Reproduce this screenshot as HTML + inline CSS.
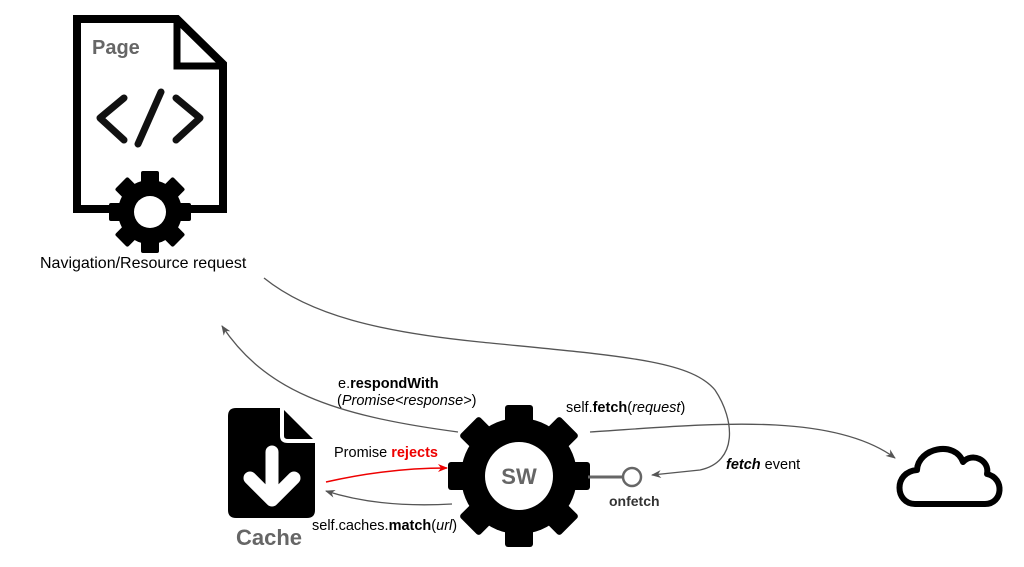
<!DOCTYPE html>
<html><head><meta charset="utf-8"><style>
html,body{margin:0;padding:0;background:#fff;}
svg{display:block;font-family:"Liberation Sans",sans-serif;}
</style></head><body>
<svg width="1024" height="567" viewBox="0 0 1024 567" xmlns="http://www.w3.org/2000/svg">
<defs>
<marker id="a" markerWidth="10" markerHeight="8" refX="9" refY="4" orient="auto" markerUnits="userSpaceOnUse"><path d="M0,0 L10,4 L0,8 L3,4 z" fill="#555"/></marker>
<marker id="r" markerWidth="10" markerHeight="8" refX="9" refY="4" orient="auto" markerUnits="userSpaceOnUse"><path d="M0,0 L10,4 L0,8 L3,4 z" fill="#e00"/></marker>
</defs>
<path d="M77,19 L177,19 L223,64 L223,209 L77,209 Z" fill="none" stroke="#000" stroke-width="8" stroke-linejoin="miter"/>
<path d="M177,19 L177,66 L223,66" fill="none" stroke="#000" stroke-width="7"/>
<text x="92" y="54" font-size="20" font-weight="bold" fill="#666">Page</text>
<g stroke="#111" stroke-width="7" stroke-linecap="round" stroke-linejoin="round" fill="none">
<path d="M124,98 L100,118 L124,140"/>
<path d="M176,98 L200,118 L176,140"/>
<path d="M161,92 L138,144"/>
</g>
<g transform="translate(150,212)">
<circle r="32" fill="#000"/>
<g fill="#000">
<rect x="-9" y="-41" width="18" height="14" rx="2"/>
<rect x="-9" y="-41" width="18" height="14" rx="2" transform="rotate(45)"/>
<rect x="-9" y="-41" width="18" height="14" rx="2" transform="rotate(90)"/>
<rect x="-9" y="-41" width="18" height="14" rx="2" transform="rotate(135)"/>
<rect x="-9" y="-41" width="18" height="14" rx="2" transform="rotate(180)"/>
<rect x="-9" y="-41" width="18" height="14" rx="2" transform="rotate(225)"/>
<rect x="-9" y="-41" width="18" height="14" rx="2" transform="rotate(270)"/>
<rect x="-9" y="-41" width="18" height="14" rx="2" transform="rotate(315)"/>
</g>
<circle r="16" fill="#fff"/>
</g>
<text x="40" y="268" font-size="16" fill="#000">Navigation/Resource request</text>
<g fill="none" stroke="#555" stroke-width="1.3">
<path d="M264,278 C310,315 380,332 480,342 C620,356 690,360 715,390 C735,420 738,462 700,470 L652,475" marker-end="url(#a)"/>
<path d="M458,432 C330,415 265,390 222,326" marker-end="url(#a)"/>
<path d="M590,432 C700,425 830,410 895,458" marker-end="url(#a)"/>
<path d="M452,504 C400,507 360,502 326,491" marker-end="url(#a)"/>
</g>
<path d="M326,482 C370,472 410,468 447,468" fill="none" stroke="#e00" stroke-width="1.5" marker-end="url(#r)"/>
<path d="M236,408 L282,408 L315,441 L315,510 Q315,518 307,518 L236,518 Q228,518 228,510 L228,416 Q228,408 236,408 Z" fill="#000"/>
<path d="M282,408 L282,436 Q282,441 288,441 L315,441" fill="none" stroke="#fff" stroke-width="4"/>
<path d="M272,452 L272,494" stroke="#fff" stroke-width="13" stroke-linecap="round"/>
<path d="M250,478 L272,500 L294,478" fill="none" stroke="#fff" stroke-width="13" stroke-linecap="round" stroke-linejoin="round"/>
<text x="236" y="545" font-size="22" font-weight="bold" fill="#666">Cache</text>
<g transform="translate(519,476)">
<circle r="58" fill="#000"/>
<g fill="#000">
<rect x="-14" y="-71" width="28" height="22" rx="3"/>
<rect x="-14" y="-71" width="28" height="22" rx="3" transform="rotate(45)"/>
<rect x="-14" y="-71" width="28" height="22" rx="3" transform="rotate(90)"/>
<rect x="-14" y="-71" width="28" height="22" rx="3" transform="rotate(135)"/>
<rect x="-14" y="-71" width="28" height="22" rx="3" transform="rotate(180)"/>
<rect x="-14" y="-71" width="28" height="22" rx="3" transform="rotate(225)"/>
<rect x="-14" y="-71" width="28" height="22" rx="3" transform="rotate(270)"/>
<rect x="-14" y="-71" width="28" height="22" rx="3" transform="rotate(315)"/>
</g>
<circle r="34" fill="#fff"/>
<text x="0" y="8" font-size="22" font-weight="bold" fill="#666" text-anchor="middle">SW</text>
</g>
<line x1="588" y1="477" x2="623" y2="477" stroke="#666" stroke-width="3"/>
<circle cx="632" cy="477" r="9" fill="#fff" stroke="#666" stroke-width="2.5"/>
<text x="609" y="506" font-size="14" font-weight="bold" fill="#333">onfetch</text>
<text x="338" y="388" font-size="14.5" fill="#000">e.<tspan font-weight="bold">respondWith</tspan></text>
<text x="337" y="405" font-size="14.5" fill="#000">(<tspan font-style="italic">Promise&lt;response&gt;</tspan>)</text>
<text x="566" y="412" font-size="14.5" fill="#000">self.<tspan font-weight="bold">fetch</tspan>(<tspan font-style="italic">request</tspan>)</text>
<text x="334" y="457" font-size="14.5" fill="#000">Promise <tspan font-weight="bold" fill="#e00">rejects</tspan></text>
<text x="312" y="530" font-size="14.5" fill="#000">self.caches.<tspan font-weight="bold">match</tspan>(<tspan font-style="italic">url</tspan>)</text>
<text x="726" y="469" font-size="14.5" fill="#000"><tspan font-weight="bold" font-style="italic">fetch</tspan> event</text>
<path d="M915,504 C895,504 893,472 917,470 C918,448 955,440 963,462 C972,452 990,460 987,474 C1005,478 1003,504 985,504 Z" fill="none" stroke="#000" stroke-width="6" stroke-linejoin="round"/>
</svg>
</body></html>
